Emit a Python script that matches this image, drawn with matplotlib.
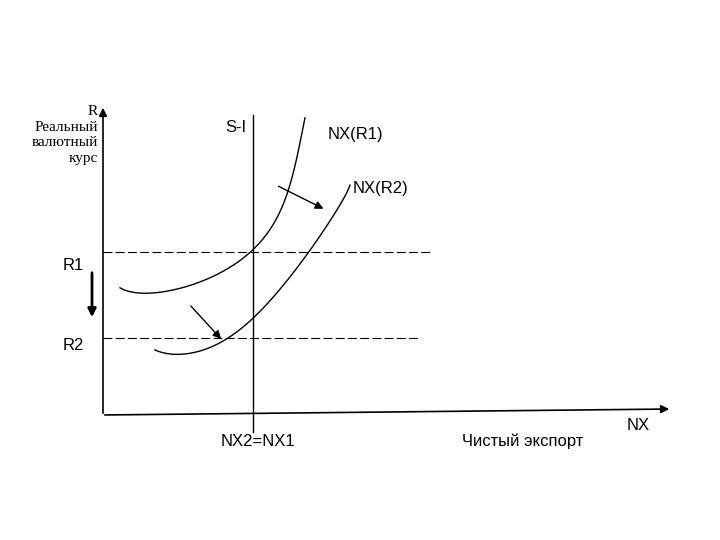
import matplotlib
matplotlib.use("Agg")
import matplotlib.pyplot as plt
import numpy as np

nx_r1_x = [120, 135, 155, 180, 205, 230, 253, 270, 285, 295, 305]
nx_r1_y = [288, 292, 293, 289, 280, 266, 250, 230, 200, 165, 118]
nx_r2_x = [155, 175, 195, 215, 235, 253, 275, 300, 320, 340, 350]
nx_r2_y = [350, 354, 353, 345, 333, 318, 295, 265, 235, 205, 185]
levels = {"R1": 252, "R2": 338}

fig = plt.figure(figsize=(7.2, 5.4), dpi=100)
ax = fig.add_axes([0, 0, 1, 1])
ax.set_xlim(0, 720); ax.set_ylim(540, 0); ax.axis("off")

def smooth(x, y):
    t = np.linspace(0, 1, len(x)); tt = np.linspace(0, 1, 200)
    cx = np.polyfit(t, x, 5); cy = np.polyfit(t, y, 5)
    return np.polyval(cx, tt), np.polyval(cy, tt)

for xs, ys in [(nx_r1_x, nx_r1_y), (nx_r2_x, nx_r2_y)]:
    sx, sy = smooth(xs, ys)
    ax.plot(sx, sy, color="black", lw=1)

ax.plot([103, 430], [levels["R1"]] * 2, color="black", lw=0.8, ls=(0, (8, 3)))
ax.plot([103, 420], [levels["R2"]] * 2, color="black", lw=0.8, ls=(0, (8, 3)))
ax.plot([253, 253], [115, 432], color="black", lw=1)

ak = dict(arrowstyle="-|>", color="black", lw=1.2, mutation_scale=12)
ax.annotate("", xy=(103, 105), xytext=(103, 416), arrowprops=ak)
ax.annotate("", xy=(672, 409), xytext=(102, 415), arrowprops=ak)
ax.annotate("", xy=(326, 210), xytext=(276, 185), arrowprops=dict(ak, lw=1))
ax.annotate("", xy=(223, 341), xytext=(189, 304), arrowprops=dict(ak, lw=1))
ax.annotate("", xy=(92, 320), xytext=(92, 270), arrowprops=dict(ak, lw=2))

serif = "Liberation Serif"; sans = "Liberation Sans"
ax.text(98, 135, "R\nРеальный\nвалютный\nкурс", ha="right", va="center",
        family=serif, fontsize=11, linespacing=1.25)
ax.text(236, 128, "S-I", ha="center", va="center", family=sans, fontsize=12)
ax.text(355, 134, "NX(R1)", ha="center", va="center", family=sans, fontsize=12)
ax.text(380, 188, "NX(R2)", ha="center", va="center", family=sans, fontsize=12)
ax.text(73, 266, "R1", ha="center", va="center", family=sans, fontsize=12)
ax.text(73, 345, "R2", ha="center", va="center", family=sans, fontsize=12)
ax.text(258, 441, "NX2=NX1", ha="center", va="center", family=sans, fontsize=12)
ax.text(523, 441, "Чистый экспорт", ha="center", va="center", family=sans, fontsize=12)
ax.text(638, 425, "NX", ha="center", va="center", family=sans, fontsize=12)

fig.savefig("out.png", dpi=100)
